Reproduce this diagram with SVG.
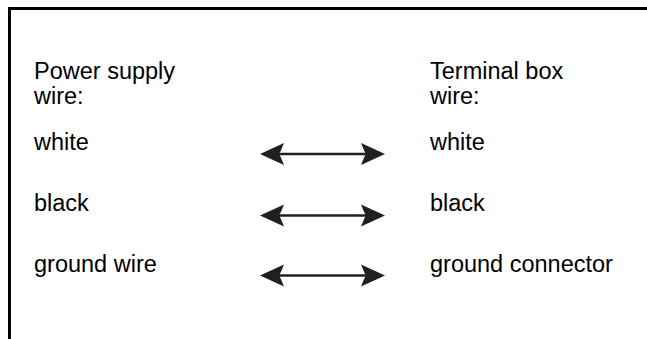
<svg xmlns="http://www.w3.org/2000/svg" width="647" height="339" viewBox="0 0 647 339">
<style>
  .t { font-family: "Liberation Sans", Arial, sans-serif; font-size: 23.5px; fill: #000; }
  .frame { fill: none; stroke: #000; stroke-width: 3; }
  .arr { stroke: #231f20; stroke-width: 2.5; fill: none; marker-start: url(#head); marker-end: url(#head); }
</style>
<defs>
  <marker id="head" markerUnits="userSpaceOnUse" viewBox="0 -12 26 24" markerWidth="26" markerHeight="24" refX="19" refY="0" orient="auto-start-reverse">
    <path d="M0,-11 L24,0 L0,11 Q4,1 5,0 Q4,-1 0,-11 Z" fill="#231f20"/>
  </marker>
</defs>
<rect width="647" height="339" fill="#fff"/>
<path class="frame" d="M9.5,339 V8.5 H647"/>
<g id="left-header"><text class="t" x="34" y="79">Power supply</text><text class="t" x="34" y="104">wire:</text></g>
<g id="right-header"><text class="t" x="430" y="79">Terminal box</text><text class="t" x="430" y="104">wire:</text></g>
<g id="left-white"><text class="t" x="34" y="150">white</text></g>
<g id="left-black"><text class="t" x="34" y="211">black</text></g>
<g id="left-ground"><text class="t" x="34" y="272">ground wire</text></g>
<g id="right-white"><text class="t" x="430" y="150">white</text></g>
<g id="right-black"><text class="t" x="430" y="211">black</text></g>
<g id="right-ground"><text class="t" x="430" y="272">ground connector</text></g>
<g id="connectors">
  <path class="arr" d="M265,154 H380"/>
  <path class="arr" d="M265,215.5 H380"/>
  <path class="arr" d="M265,275.5 H380"/>
</g>
</svg>
